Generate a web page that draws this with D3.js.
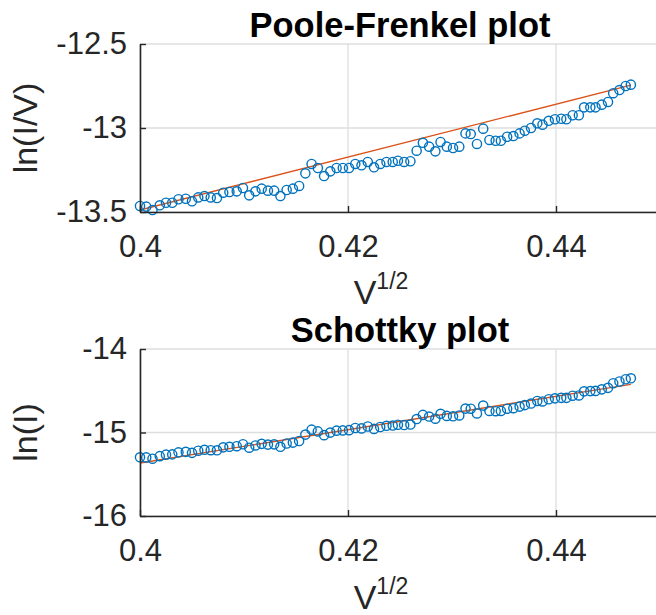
<!DOCTYPE html>
<html>
<head>
<meta charset="utf-8">
<script src="https://cdn.jsdelivr.net/npm/d3@7"></script>
<style>
  html, body { margin: 0; padding: 0; background: #fff; }
  svg { display: block; font-family: "Liberation Sans", Arial, Helvetica, sans-serif; }
</style>
</head>
<body>
<svg id="chart" width="656" height="615"></svg>
<script>
// Square root of the applied bias, V^(1/2)
const sqrtV = [
  0.4000, 0.4006, 0.4012, 0.4019, 0.4025, 0.4031, 0.4037, 0.4044, 0.4050, 0.4056,
  0.4062, 0.4068, 0.4074, 0.4080, 0.4086, 0.4093, 0.4099, 0.4105, 0.4111, 0.4117,
  0.4123, 0.4129, 0.4135, 0.4141, 0.4147, 0.4153, 0.4159, 0.4165, 0.4171, 0.4177,
  0.4183, 0.4189, 0.4195, 0.4201, 0.4207, 0.4213, 0.4219, 0.4225, 0.4231, 0.4237,
  0.4243, 0.4248, 0.4254, 0.4260, 0.4266, 0.4272, 0.4278, 0.4284, 0.4289, 0.4295,
  0.4301, 0.4307, 0.4313, 0.4318, 0.4324, 0.4330, 0.4336, 0.4342, 0.4347, 0.4353,
  0.4359, 0.4365, 0.4370, 0.4376, 0.4382, 0.4387, 0.4393, 0.4399, 0.4405, 0.4410,
  0.4416, 0.4422, 0.4427, 0.4433, 0.4438, 0.4444, 0.4450, 0.4455, 0.4461, 0.4467,
  0.4472
];

// Poole-Frenkel: ln(I/V)
const lnIoverV = [
  -13.464, -13.468, -13.488, -13.460, -13.445, -13.445, -13.424, -13.421, -13.436, -13.413,
  -13.405, -13.413, -13.417, -13.385, -13.381, -13.377, -13.357, -13.401, -13.377, -13.361,
  -13.373, -13.373, -13.405, -13.369, -13.361, -13.345, -13.270, -13.214, -13.238, -13.286,
  -13.258, -13.238, -13.238, -13.238, -13.214, -13.222, -13.202, -13.234, -13.214, -13.202,
  -13.202, -13.195, -13.202, -13.198, -13.135, -13.088, -13.111, -13.139, -13.083, -13.111,
  -13.119, -13.111, -13.032, -13.036, -13.095, -13.004, -13.071, -13.076, -13.076, -13.052,
  -13.048, -13.032, -13.016, -13.000, -12.972, -12.980, -12.957, -12.948, -12.945, -12.948,
  -12.924, -12.924, -12.877, -12.877, -12.877, -12.861, -12.845, -12.793, -12.774, -12.750,
  -12.742
];

// Schottky: ln(I)
const lnI = [
  -15.297, -15.298, -15.314, -15.283, -15.265, -15.262, -15.238, -15.232, -15.244, -15.218,
  -15.207, -15.212, -15.213, -15.178, -15.171, -15.164, -15.141, -15.182, -15.155, -15.136,
  -15.145, -15.142, -15.171, -15.132, -15.121, -15.102, -15.025, -14.966, -14.987, -15.032,
  -15.001, -14.978, -14.975, -14.972, -14.946, -14.951, -14.928, -14.957, -14.934, -14.920,
  -14.917, -14.907, -14.911, -14.905, -14.839, -14.789, -14.809, -14.835, -14.776, -14.801,
  -14.806, -14.796, -14.714, -14.715, -14.772, -14.678, -14.742, -14.745, -14.742, -14.715,
  -14.709, -14.690, -14.672, -14.653, -14.622, -14.628, -14.602, -14.591, -14.585, -14.585,
  -14.559, -14.556, -14.507, -14.504, -14.502, -14.483, -14.465, -14.410, -14.389, -14.362,
  -14.351
];

// Linear fits (end points over the measured range)
const fitX = [0.4000, 0.4472];
const fitIoverV = [-13.488, -12.745];
const fitI = [-15.365, -14.423];

// Axis ticks
const xTicks = [0.40, 0.42, 0.44];
const xTickLabels = ["0.4", "0.42", "0.44"];
const yTicksPF = [-12.5, -13, -13.5];
const yTickLabelsPF = ["-12.5", "-13", "-13.5"];
const yTicksS = [-14, -15, -16];
const yTickLabelsS = ["-14", "-15", "-16"];

const svg = d3.select("#chart");
const axisColor = "#262626";
const gridColor = "#dedede";
const markerColor = "#0072BD";
const fitColor = "#D95319";

function panel(opts) {
  const { left, top, width, height, xDomain, yDomain, xs, ys, fy,
          yTicks, yLabels, title, titleY, xlabelY, ylabel } = opts;
  const x = d3.scaleLinear().domain(xDomain).range([left, left + width]);
  const y = d3.scaleLinear().domain(yDomain).range([top + height, top]);
  const g = svg.append("g");

  // grid
  const grid = g.append("g");
  grid.selectAll("line.gx").data(xTicks).join("line")
    .attr("x1", d => x(d)).attr("x2", d => x(d))
    .attr("y1", top).attr("y2", top + height)
    .attr("stroke", gridColor).attr("stroke-width", 1.3);
  grid.selectAll("line.gy").data(yTicks).join("line")
    .attr("x1", left).attr("x2", left + width)
    .attr("y1", d => y(d)).attr("y2", d => y(d))
    .attr("stroke", gridColor).attr("stroke-width", 1.3);

  // fitted line
  g.append("path")
    .datum(d3.zip(fitX, fy))
    .attr("fill", "none")
    .attr("stroke", fitColor)
    .attr("stroke-width", 1.4)
    .attr("d", d3.line().x(d => x(d[0])).y(d => y(d[1])));

  // measured points
  g.append("g").selectAll("circle")
    .data(d3.zip(xs, ys)).join("circle")
    .attr("cx", d => x(d[0])).attr("cy", d => y(d[1]))
    .attr("r", 4.6)
    .attr("fill", "none")
    .attr("stroke", markerColor)
    .attr("stroke-width", 1.4);

  // axes
  const xAxis = d3.axisBottom(x)
    .tickValues(xTicks)
    .tickFormat((d, i) => xTickLabels[i])
    .tickSizeInner(-6).tickSizeOuter(0).tickPadding(23);
  const yAxis = d3.axisLeft(y)
    .tickValues(yTicks)
    .tickFormat((d, i) => yLabels[i])
    .tickSizeInner(-6).tickSizeOuter(0).tickPadding(13);

  const gx = g.append("g").attr("transform", `translate(0,${top + height})`).call(xAxis);
  const gy = g.append("g").attr("transform", `translate(${left},0)`).call(yAxis);
  [gx, gy].forEach(a => {
    a.select(".domain").attr("stroke", axisColor).attr("stroke-width", 1.6);
    a.selectAll(".tick line").attr("stroke", axisColor).attr("stroke-width", 1.4);
    a.selectAll(".tick text").attr("fill", axisColor)
      .style("font-size", "31px").style("font-family", "inherit");
  });

  // title
  g.append("text")
    .attr("x", left + width / 2).attr("y", titleY)
    .attr("text-anchor", "middle")
    .style("font-size", "34.5px").style("font-weight", "bold")
    .attr("fill", "#000")
    .text(title);

  // x label V^(1/2)
  const xl = g.append("text")
    .attr("x", 381).attr("y", xlabelY)
    .attr("text-anchor", "middle")
    .attr("fill", axisColor)
    .style("font-size", "34px");
  xl.append("tspan").text("V");
  xl.append("tspan").attr("dy", -15).style("font-size", "23px").text("1/2");

  // y label
  g.append("text")
    .attr("transform", `translate(37,${top + height / 2}) rotate(-90)`)
    .attr("text-anchor", "middle")
    .attr("fill", axisColor)
    .style("font-size", "34px")
    .text(ylabel);
}

panel({
  left: 140, top: 44, width: 520, height: 168,
  xDomain: [0.40, 0.45], yDomain: [-13.5, -12.5],
  xs: sqrtV, ys: lnIoverV, fy: fitIoverV,
  yTicks: yTicksPF, yLabels: yTickLabelsPF,
  title: "Poole-Frenkel plot", titleY: 37, xlabelY: 304, ylabel: "ln(I/V)"
});

panel({
  left: 140, top: 349, width: 520, height: 167,
  xDomain: [0.40, 0.45], yDomain: [-16, -14],
  xs: sqrtV, ys: lnI, fy: fitI,
  yTicks: yTicksS, yLabels: yTickLabelsS,
  title: "Schottky plot", titleY: 342, xlabelY: 609, ylabel: "ln(I)"
});
</script>
</body>
</html>
